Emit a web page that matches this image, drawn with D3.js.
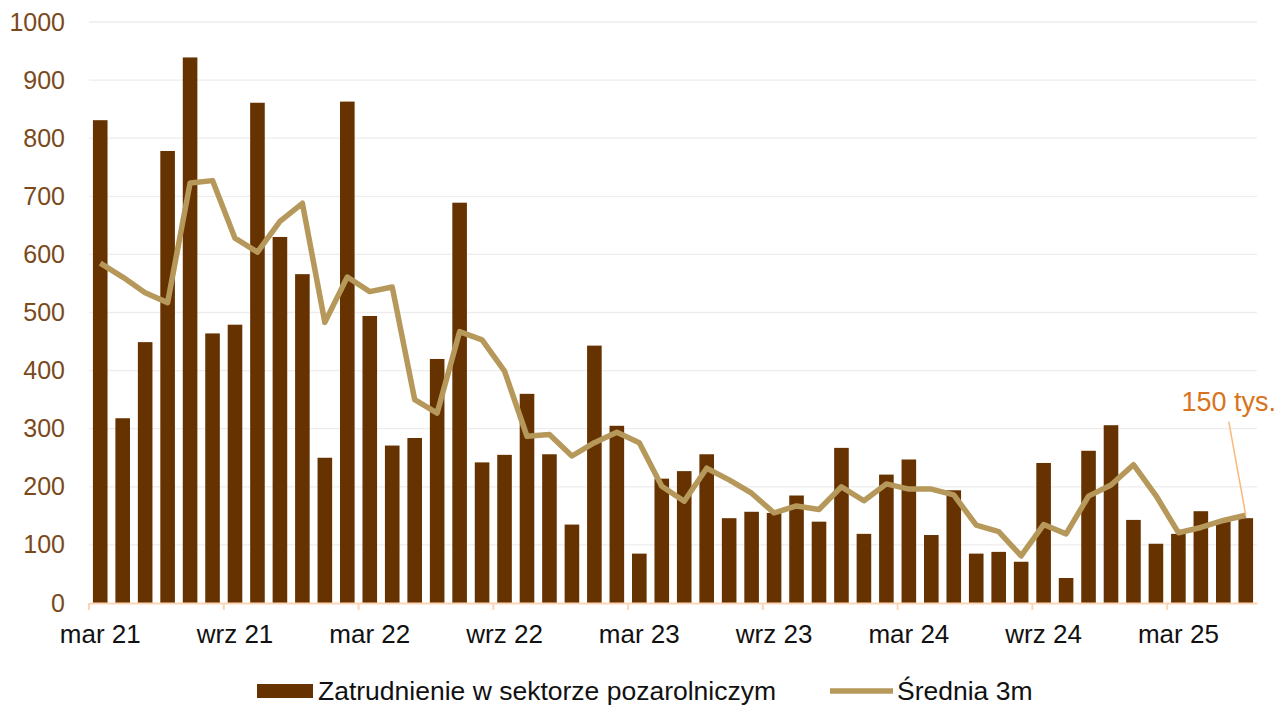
<!DOCTYPE html>
<html>
<head>
<meta charset="utf-8">
<script src="https://cdn.jsdelivr.net/npm/d3@7"></script>
<style>
  body { margin: 0; background: #fff; }
  text { font-family: "Liberation Sans", Arial, sans-serif; }
</style>
</head>
<body>
<div id="chart"></div>
<script>
// Categories (months)
const months = [
  "mar 21", "kwi 21", "maj 21", "cze 21", "lip 21", "sie 21", "wrz 21", "paź 21", "lis 21", "gru 21", "sty 22", "lut 22",
  "mar 22", "kwi 22", "maj 22", "cze 22", "lip 22", "sie 22", "wrz 22", "paź 22", "lis 22", "gru 22", "sty 23", "lut 23",
  "mar 23", "kwi 23", "maj 23", "cze 23", "lip 23", "sie 23", "wrz 23", "paź 23", "lis 23", "gru 23", "sty 24", "lut 24",
  "mar 24", "kwi 24", "maj 24", "cze 24", "lip 24", "sie 24", "wrz 24", "paź 24", "lis 24", "gru 24", "sty 25", "lut 25",
  "mar 25", "kwi 25", "maj 25", "cze 25"
];

// Bars: employment in non-agricultural sector
const employment = [
  831, 318, 449, 778, 939, 464, 479, 861, 630, 566,
  250, 863, 494, 271, 284, 420, 689, 242, 255, 360,
  256, 135, 443, 305, 85, 214, 227, 256, 146, 157,
  155, 185, 140, 267, 119, 221, 247, 117, 194, 85,
  88, 71, 241, 43, 262, 306, 143, 102, 119, 158,
  140, 146
];

// Line: 3-month average
const avg3m = [
  585, 561, 534, 517, 723, 727, 628, 604, 657, 688,
  483, 561, 536, 544, 350, 327, 467, 453, 399, 287,
  290, 253, 276, 294, 276, 201, 175, 232, 212, 189,
  155, 167, 161, 200, 176, 205, 196, 196, 186, 134,
  123, 81, 135, 119, 184, 203, 238, 185, 121, 130,
  142, 151
];

const yTicks = [0, 100, 200, 300, 400, 500, 600, 700, 800, 900, 1000];
const xTickLabels = ["mar 21", "wrz 21", "mar 22", "wrz 22", "mar 23", "wrz 23", "mar 24", "wrz 24", "mar 25"];
const seriesNames = ["Zatrudnienie w sektorze pozarolniczym", "Średnia 3m"];
const lastLabel = "150 tys.";

const barColor = "#663300";
const lineColor = "#b5985a";

// Dimensions
const W = 1283, H = 709;
const margin = { top: 22, right: 26, bottom: 106, left: 89 };
const width = W - margin.left - margin.right;
const height = H - margin.top - margin.bottom;

const svg = d3.select("#chart")
  .append("svg")
  .attr("width", W)
  .attr("height", H);

const g = svg.append("g")
  .attr("transform", `translate(${margin.left},${margin.top})`);

// Scales
const x = d3.scaleBand()
  .domain(months)
  .range([0, width])
  .paddingInner(0.35)
  .paddingOuter(0.175);

const y = d3.scaleLinear()
  .domain([0, 1000])
  .range([height, 0]);

const step = x.step();
const cx = d => x(d) + x.bandwidth() / 2;

// Gridlines
g.append("g")
  .selectAll("line")
  .data(yTicks.filter(t => t > 0))
  .enter()
  .append("line")
  .attr("x1", 0)
  .attr("x2", width)
  .attr("y1", d => y(d))
  .attr("y2", d => y(d))
  .attr("stroke", "#ededed")
  .attr("stroke-width", 1.3);

// Y axis
const yAxis = g.append("g")
  .call(d3.axisLeft(y).tickValues(yTicks).tickFormat(d3.format("d")).tickSize(0).tickPadding(24));
yAxis.select(".domain").remove();
yAxis.selectAll("text")
  .attr("fill", "#7a4a1c")
  .style("font-size", "25px");

// Bars
g.selectAll(".bar")
  .data(employment)
  .enter()
  .append("rect")
  .attr("class", "bar")
  .attr("x", (d, i) => x(months[i]))
  .attr("y", d => y(d))
  .attr("width", x.bandwidth())
  .attr("height", d => height - y(d))
  .attr("fill", barColor);

// X axis
const xAxis = g.append("g")
  .attr("transform", `translate(0,${height})`)
  .call(d3.axisBottom(x).tickValues(xTickLabels).tickSize(0).tickPadding(22));
xAxis.select(".domain")
  .attr("stroke", "#fbd5b5")
  .attr("stroke-width", 2);
xAxis.selectAll("text")
  .attr("fill", "#111")
  .style("font-size", "26px");

// Tick marks at band boundaries
xAxis.selectAll(".bound")
  .data(xTickLabels)
  .enter()
  .append("line")
  .attr("x1", d => cx(d) - step / 2)
  .attr("x2", d => cx(d) - step / 2)
  .attr("y1", 0)
  .attr("y2", 7)
  .attr("stroke", "#fbd5b5")
  .attr("stroke-width", 2);

// 3m average line
const line = d3.line()
  .x((d, i) => cx(months[i]))
  .y(d => y(d));

g.append("path")
  .datum(avg3m)
  .attr("d", line)
  .attr("fill", "none")
  .attr("stroke", lineColor)
  .attr("stroke-width", 5.5)
  .attr("stroke-linejoin", "round");

// Annotation for last value
const lastI = avg3m.length - 1;
const lx = cx(months[lastI]);
const ly = y(avg3m[lastI]);
g.append("line")
  .attr("x1", lx - 17)
  .attr("y1", y(312))
  .attr("x2", lx)
  .attr("y2", ly)
  .attr("stroke", "#f9b878")
  .attr("stroke-width", 1.5);
g.append("text")
  .attr("x", lx - 17)
  .attr("y", y(347))
  .attr("dy", "0.35em")
  .attr("text-anchor", "middle")
  .attr("fill", "#d9731c")
  .style("font-size", "27px")
  .text(lastLabel);

// Legend
const legend = svg.append("g")
  .attr("transform", `translate(0,${691})`);
legend.append("rect")
  .attr("x", 257)
  .attr("y", -7)
  .attr("width", 56)
  .attr("height", 14)
  .attr("fill", barColor);
legend.append("text")
  .attr("x", 318)
  .attr("dy", "0.35em")
  .attr("fill", "#111")
  .style("font-size", "26.5px")
  .text(seriesNames[0]);
legend.append("line")
  .attr("x1", 830)
  .attr("x2", 893)
  .attr("stroke", lineColor)
  .attr("stroke-width", 5.5);
legend.append("text")
  .attr("x", 897)
  .attr("dy", "0.35em")
  .attr("fill", "#111")
  .style("font-size", "26.5px")
  .text(seriesNames[1]);
</script>
</body>
</html>
